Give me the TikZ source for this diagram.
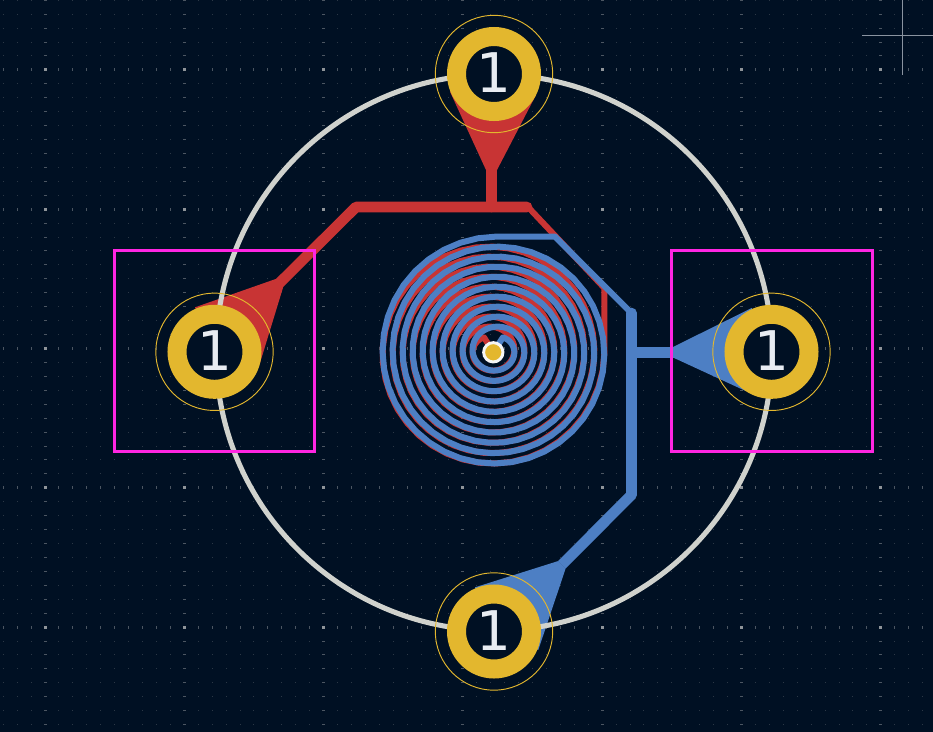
\documentclass[tikz,border=0pt]{standalone}
\usepackage{fontspec}
\setmainfont{DejaVu Sans}

\definecolor{boardbg}{HTML}{001023}
\definecolor{griddot}{HTML}{2C3846}
\definecolor{gridtick}{HTML}{4C5662}
\definecolor{gridcross}{HTML}{8F9499}
\definecolor{cursorline}{HTML}{8A93A0}
\definecolor{fcu}{HTML}{C83434}
\definecolor{bcu}{HTML}{4D7FC4}
\definecolor{padgold}{HTML}{E3B72E}
\definecolor{edgecut}{HTML}{D0D2CD}
\definecolor{marker}{HTML}{FF26E2}
\definecolor{padtext}{HTML}{E8ECF2}

\tikzset{
    redtrack/.style={draw=fcu, line width=8pt, line join=round, line cap=round},
    redspiral/.style={draw=fcu, line width=4.5pt, line join=round},
    bluetrack/.style={draw=bcu, line width=8pt, line join=round},
    bluespiral/.style={draw=bcu, line width=4.5pt, line join=round},
    padring/.style={circle, draw=padgold, fill=boardbg, line width=14.25pt, minimum size=56.25pt,
        inner sep=0pt, text=padtext, font=\fontsize{41}{41}\selectfont},
    padhalo/.style={circle, draw=padgold, line width=0.7pt, minimum size=88pt, inner sep=0pt},
    padmark/.style={draw=marker, line width=2pt}
}

\begin{document}
\begin{tikzpicture}[x=0.75pt, y=-0.75pt]

\useasboundingbox[fill=boardbg] (0,0) rectangle (933,732);

% grid
\foreach \k in {-25,...,27}
{
    \foreach \m in {-3,...,63}
    {
        \fill[griddot] ({round(880.3-13.93*\m)},{round(348+13.93*\k)}) rectangle ++(1,1);
    }
}
\foreach \k in {-20,-10,0,10,20}
{
    \foreach \m in {-3,...,63}
    {
        \fill[gridtick] ({round(880.3-13.93*\m)},{round(348+13.93*\k)-1}) rectangle ++(1,3);
    }
}
\foreach \m in {0,10,...,60}
{
    \foreach \k in {-25,...,27}
    {
        \fill[gridtick] ({round(880.3-13.93*\m)-1},{round(348+13.93*\k)}) rectangle ++(3,1);
    }
    \foreach \k in {-20,-10,0,10,20}
    {
        \fill[gridcross] ({round(880.3-13.93*\m)-1},{round(348+13.93*\k)-1}) rectangle ++(3,3);
    }
}

\coordinate (viaC) at (493.3,352.3);
\coordinate (topC) at (494,74);
\coordinate (leftC) at (214.5,351.8);
\coordinate (rightC) at (771.5,351.8);
\coordinate (botC) at (494,631.5);

% top layer
\draw[redspiral] (viaC) -- plot[domain=25:3510,samples=400] ({491-(15.85+\x/36)*sin(\x)},{351+0.000458*\x-(14.35+0.02824*\x)*cos(\x)})
    -- (604.3,288) -- (528,207);
\draw[redtrack] (491.5,168) -- (491.5,207);
\draw[redtrack] (279.5,283) -- (356,207) -- (527,207);
\fill[fcu] (486,170) -- (450,91.7) -- (topC) -- (536,95) -- (497,170) -- cycle;
\fill[fcu] (275.7,279) -- (195,307.3) -- (leftC) -- (260,363) -- (283.3,286.7) -- cycle;

% bottom layer
\draw[bluespiral] (viaC) -- plot[domain=25:3600,samples=400] ({495.95+(15.85+\x/36)*sin(\x)},{351+0.000458*\x-(14.35+0.02824*\x)*cos(\x)})
    -- (555,236.6) -- (631.3,313);
\draw[bluetrack,line cap=round] (631.3,313) -- (631.3,495);
\draw[bluetrack] (631.3,495) -- (562,564.7);
\draw[bluetrack] (631.3,352.3) -- (675,352.3);
\fill[bcu] (673,347) -- (751.7,308) -- (rightC) -- (745,390.7) -- (673,357.5) -- cycle;
\fill[bcu] (558.3,561) -- (475,587.3) -- (botC) -- (538.3,650) -- (565.7,568.3) -- cycle;

% outline and markers
\draw[edgecut, line width=3.8pt] (494,352.5) circle (278);
\draw[padmark] (114.7,250.7) rectangle (314.2,451.3);
\draw[padmark] (671.8,250.7) rectangle (872.3,451.3);

% pads
\foreach \v in {topC,leftC,rightC,botC}
{
    \node[padring] (pad\v) at (\v) {\raisebox{1.7pt}{1}};
    \node[padhalo] (halo\v) at (\v) {};
}
\node[circle, fill=padgold, draw=white!92!gray, line width=2.2pt, minimum size=14.5pt, inner sep=0pt] (via) at (viaC) {};

% cursor
\draw[cursorline, line width=0.75pt] (902.5,0) -- (902.5,75);
\draw[cursorline, line width=0.75pt] (862,35.5) -- (933,35.5);

\end{tikzpicture}
\end{document}
